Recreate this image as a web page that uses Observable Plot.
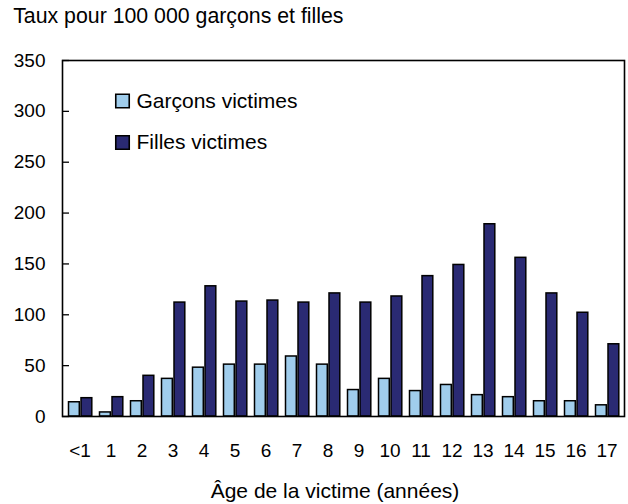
<!DOCTYPE html>
<html><head><meta charset="utf-8">
<script src="https://cdn.jsdelivr.net/npm/d3@7"></script>
<script src="https://cdn.jsdelivr.net/npm/@observablehq/plot@0.6"></script>
<style>body{margin:0;background:#fff}</style></head>
<body><div id="chart"></div>
<script>
const ages = ["<1","1","2","3","4","5","6","7","8","9","10","11","12","13","14","15","16","17"];
const garcons = [14,4,15,37,48,51,51,59,51,26,37,25,31,21,19,15,15,11];
const filles = [18,19,40,112,128,113,114,112,121,112,118,138,149,189,156,121,102,71];
const seriesNames = ["Garçons victimes","Filles victimes"];
const yTicks = [0,50,100,150,200,250,300,350];
const title = "Taux pour 100 000 garçons et filles";
const xLabel = "Âge de la victime (années)";

const boys = ages.map((a,i)=>({age:a, s:seriesNames[0], v:garcons[i]}));
const girls = ages.map((a,i)=>({age:a, s:seriesNames[1], v:filles[i]}));

const chart = Plot.plot({
  width: 628, height: 504,
  marginLeft: 62, marginRight: 4, marginTop: 60, marginBottom: 88,
  style: {fontFamily: "'Liberation Sans', Arial, sans-serif", fontSize: "21px", color: "#000", background: "#fff"},
  x: {domain: ages, padding: 0, label: null},
  y: {domain: [0, 350], label: null},
  color: {domain: seriesNames, range: ["#a0cdec", "#2a2a73"]},
  marks: [
    Plot.barY(boys, {x: "age", y: "v", fill: "s", stroke: "black", strokeWidth: 1.5, insetLeft: 4.5, insetRight: 15.7}),
    Plot.barY(girls, {x: "age", y: "v", fill: "s", stroke: "black", strokeWidth: 1.5, insetLeft: 17, insetRight: 3.2}),
    Plot.frame({stroke: "black", strokeWidth: 1.6}),
    Plot.axisY(yTicks, {tickSize: 0, tickPadding: 17, label: null, fontSize: 19}),
    Plot.axisY(yTicks, {tickSize: -7, tickFormat: () => "", label: null, strokeWidth: 1.3}),
    Plot.axisX({tickSize: 0, tickPadding: 27, label: null, fontSize: 19}),
    Plot.text([xLabel], {text: d => d, frameAnchor: "bottom", lineAnchor: "middle", dx: -8.5, dy: 75, fontSize: 21}),
    Plot.text([title], {text: d => d, frameAnchor: "top-left", lineAnchor: "middle", textAnchor: "start", dx: -49.3, dy: -44.5, fontSize: 21.3}),
    Plot.dot([seriesNames[0]], {fill: d => d, symbol: "square", r: 7.6, stroke: "black", strokeWidth: 1.6, frameAnchor: "top-left", dx: 60, dy: 40.5}),
    Plot.dot([seriesNames[1]], {fill: d => d, symbol: "square", r: 7.6, stroke: "black", strokeWidth: 1.6, frameAnchor: "top-left", dx: 60, dy: 82}),
    Plot.text([seriesNames[0]], {text: d => d, frameAnchor: "top-left", lineAnchor: "middle", textAnchor: "start", dx: 74, dy: 40.5, fontSize: 21}),
    Plot.text([seriesNames[1]], {text: d => d, frameAnchor: "top-left", lineAnchor: "middle", textAnchor: "start", dx: 74, dy: 82, fontSize: 21})
  ]
});
document.getElementById("chart").append(chart);
</script>
</body></html>
